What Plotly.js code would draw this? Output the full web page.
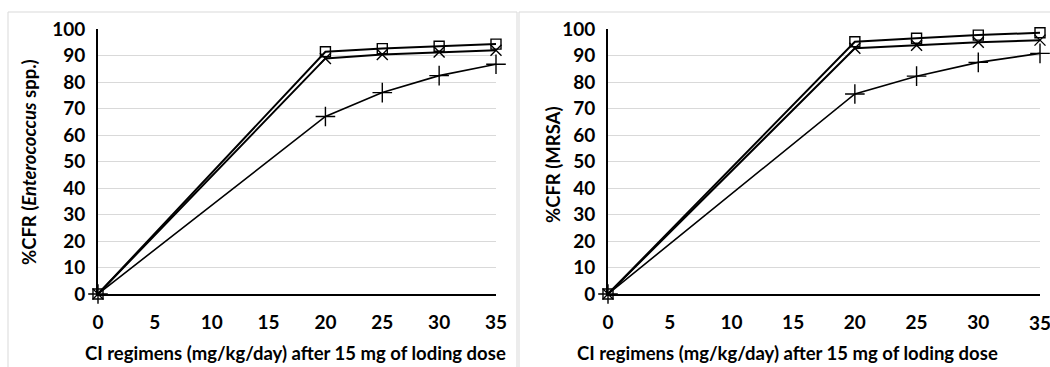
<!DOCTYPE html>
<html>
<head>
<meta charset="utf-8">
<script src="https://cdn.plot.ly/plotly-3.0.1.min.js"></script>
<style>html,body{margin:0;padding:0;background:#fff;}#chart{width:1050px;height:367px;}</style>
</head>
<body>
<div id="chart"></div>
<script>
const doses = [0, 20, 25, 30, 35];
const xTicks = [0, 5, 10, 15, 20, 25, 30, 35];
const yTicks = [0, 10, 20, 30, 40, 50, 60, 70, 80, 90, 100];

// Left panel: Enterococcus spp.
const entSquare = [0, 91.4, 92.6, 93.5, 94.3];
const entCross  = [0, 88.9, 90.4, 91.3, 92.0];
const entPlus   = [0, 67.0, 76.0, 82.4, 86.7];

// Right panel: MRSA
const mrsaSquare = [0, 95.2, 96.5, 97.7, 98.6];
const mrsaCross  = [0, 92.7, 93.9, 95.0, 95.8];
const mrsaPlus   = [0, 75.5, 82.2, 87.4, 90.8];

const yTitleLeft = '<b>%CFR (<i>Enterococcus</i> spp.)</b>';
const yTitleRight = '<b>%CFR (MRSA)</b>';
const xTitle = '<b>CI regimens (mg/kg/day) after 15 mg of loding dose</b>';

function tr(y, xa, ya, sym, size, lw) {
  return {
    x: doses, y: y, xaxis: xa, yaxis: ya, type: 'scatter', mode: 'lines+markers',
    line: {color: '#000', width: lw},
    marker: {symbol: sym, size: size, color: '#000', line: {color: '#000', width: 1.4}},
    cliponaxis: false, showlegend: false, hoverinfo: 'x+y'
  };
}

const data = [
  tr(entPlus, 'x', 'y', 'cross-thin-open', 14, 1.6),
  tr(entCross, 'x', 'y', 'x-thin-open', 11, 2),
  tr(entSquare, 'x', 'y', 'square-open', 10, 2),
  tr(mrsaPlus, 'x2', 'y2', 'cross-thin-open', 14, 1.6),
  tr(mrsaCross, 'x2', 'y2', 'x-thin-open', 11, 2),
  tr(mrsaSquare, 'x2', 'y2', 'square-open', 10, 2)
];

const fam = 'Lato, Open Sans, Liberation Sans, sans-serif';
const tickFont = {family: fam, size: 19, color: '#000'};
const titleFont = {family: fam, size: 18.5, color: '#000'};

function xax(dom) {
  return {
    domain: dom, range: [0, 35], tickvals: xTicks, ticktext: xTicks.map(v => '<b>' + v + '</b>'),
    showgrid: false, zeroline: false, showline: true, linecolor: '#000', linewidth: 2,
    ticks: '', tickfont: tickFont, ticklabelstandoff: 10, fixedrange: true
  };
}
function yax(dom, anchor) {
  return {
    domain: dom, anchor: anchor, range: [0, 100], tickvals: yTicks, ticktext: yTicks.map(v => '<b>' + v + '</b>'),
    showgrid: true, gridcolor: '#d9d9d9', gridwidth: 1, zeroline: false,
    showline: true, linecolor: '#000', linewidth: 2, ticks: '', tickfont: tickFont,
    ticklabelstandoff: 7, fixedrange: true
  };
}

function ann(text, x, y, angle) {
  return {text: text, xref: 'paper', yref: 'paper', x: x / 1050, y: 1 - y / 367,
    xanchor: 'center', yanchor: 'middle', showarrow: false, textangle: angle, font: titleFont};
}

const yDom = [73/367, 338/367];
const layout = {
  width: 1050, height: 367,
  margin: {l: 0, r: 0, t: 0, b: 0},
  paper_bgcolor: '#fff', plot_bgcolor: 'rgba(0,0,0,0)',
  xaxis: Object.assign(xax([98/1050, 496/1050]), {anchor: 'y'}),
  yaxis: yax(yDom, 'x'),
  xaxis2: Object.assign(xax([608/1050, 1040/1050]), {anchor: 'y2'}),
  yaxis2: yax(yDom, 'x2'),
  annotations: [
    ann(xTitle, 295, 353, 0),
    ann(xTitle, 787, 353, 0),
    ann(yTitleLeft, 29, 162, -90),
    ann(yTitleRight, 553, 165, -90),
    {text: '<b>' + xTicks[xTicks.length - 1] + '</b>', xref: 'x2', yref: 'paper',
     x: xTicks[xTicks.length - 1], y: 1 - 322 / 367, xanchor: 'center', yanchor: 'middle',
     showarrow: false, font: tickFont}
  ],
  shapes: [
    {type: 'rect', xref: 'paper', yref: 'paper', x0: 8/1050, x1: 517/1050, y0: -0.01, y1: (367-12)/367,
     line: {color: '#d9d9d9', width: 1}, fillcolor: 'rgba(0,0,0,0)', layer: 'below'},
    {type: 'rect', xref: 'paper', yref: 'paper', x0: 519/1050, x1: 1.01, y0: -0.01, y1: (367-12)/367,
     line: {color: '#d9d9d9', width: 1}, fillcolor: 'rgba(0,0,0,0)', layer: 'below'}
  ]
};

Plotly.newPlot('chart', data, layout, {displayModeBar: false, staticPlot: true});
</script>
</body>
</html>
